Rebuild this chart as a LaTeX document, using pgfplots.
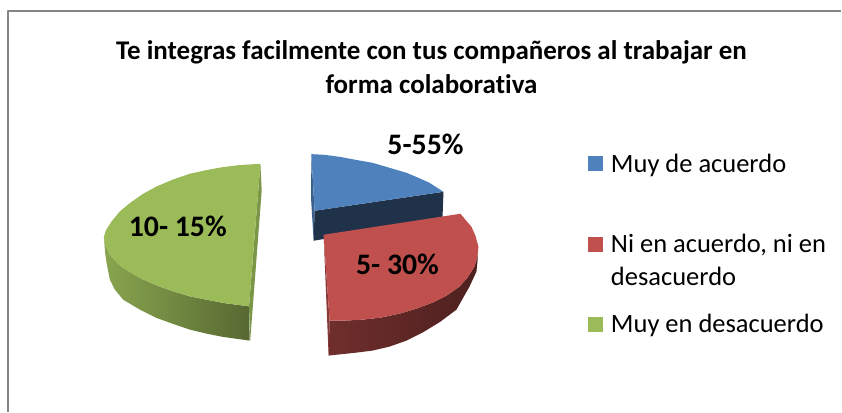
\documentclass[border=0pt]{standalone}
\usepackage{pgfplots}
\pgfplotsset{compat=1.18}
\usepackage{fontspec}
\setmainfont[Ligatures=NoCommon]{Carlito}
\definecolor{cblue}{HTML}{4F81BD}
\definecolor{cred}{HTML}{C0504D}
\definecolor{cgreen}{HTML}{9BBB59}
\begin{document}
\begin{tikzpicture}
\begin{axis}[
  width=842pt,height=412pt,scale only axis,
  xmin=0,xmax=842,ymin=0,ymax=412,y dir=reverse,
  axis lines=none,no markers,clip=false,
  every axis plot/.append style={line join=round},
]
% page and frame
\addplot[fill=white,draw=none] coordinates {(0,0)(842,0)(842,412)(0,412)} --cycle;
\addplot[color=black!48,line width=2pt] coordinates {(8.5,412)(8.5,11.5)(842,11.5)};
% green side
\addplot[draw=none,left color=cgreen!88!black,right color=cgreen!56!black] coordinates {
(104,237.3)(105.3,245)(110,255)(116.7,262.7)(123.3,268.3)(140,278.3)(156.7,285.7)(173.3,291.7)(190,296.7)(206.7,300)(223.3,303.3)(249.3,306.7)
(250,341)(223.3,337.3)(206.7,334)(190,330)(173.3,324.3)(156.7,318.3)(140,310)(123.3,300)(115,290)(110,280)(106.7,263.3)(105.3,253.3)} --cycle;
\addplot[draw=none,fill=cgreen!80!black] coordinates {(260.7,164)(262,191)(250.5,341)(249.3,306.7)} --cycle;
\addplot[draw=none,fill=cgreen] coordinates {
(260.7,164)(240,165.3)(223.3,167.3)(206.7,170.3)(190,174)(173.3,179.7)(156.7,186.7)(143.3,194)(130,203.3)(120,211.7)(111.7,221.7)(106,230.7)(104,237.3)(105.3,245)(110,255)(116.7,262.7)(123.3,268.3)(140,278.3)(156.7,285.7)(173.3,291.7)(190,296.7)(206.7,300)(223.3,303.3)(249.3,306.7)} --cycle;
% blue
\addplot[draw=none,fill=cblue!75!black] coordinates {(311.7,154.3)(315,211)(314,241)(311.5,200)} --cycle;
\addplot[draw=none,fill=cblue!39!black] coordinates {(315,211)(444,192)(443,219)(314,241)} --cycle;
\addplot[draw=none,fill=cblue] coordinates {
(311.7,154.3)(325,155)(340,157)(356,160)(373,163)(390,168)(407,173)(420,178.5)(430,183)(444,192)(315,211)} --cycle;
% red
\addplot[draw=none,fill=cred!70!black] coordinates {(324,235)(329,356)(330,321)} --cycle;
\addplot[draw=none,left color=cred!58!black,middle color=cred!33!black,right color=cred!40!black] coordinates {
(330,321)(345,321)(363,320)(381,318)(400,314)(417,309)(433,303)(447,296)(460,287)(468,278)(475,267)(478,257)(479,247)
(478,262)(477,272)(470,287)(457,310)(441,322)(423,333)(407,341)(390,347)(373,351)(357,353)(329,356)} --cycle;
\addplot[draw=none,fill=cred] coordinates {
(324,235)(461,214)(466,220)(472,227)(476,236)(479,247)(478,257)(475,267)(468,278)(460,287)(447,296)(433,303)(417,309)(400,314)(381,318)(363,320)(345,321)(330,321)} --cycle;
% legend keys
\addplot[draw=none,fill=cblue] coordinates {(589,156)(604,156)(604,171)(589,171)} --cycle;
\addplot[draw=none,fill=cred] coordinates {(589,237)(604,237)(604,252)(589,252)} --cycle;
\addplot[draw=none,fill=cgreen] coordinates {(589,317)(604,317)(604,332)(589,332)} --cycle;
% texts
\node[anchor=base,font=\fontsize{27}{30}\selectfont\bfseries] at (axis cs:432,59.5) {Te integras facilmente con tus compañeros al trabajar en};
\node[anchor=base,font=\fontsize{27}{30}\selectfont\bfseries] at (axis cs:432,93.5) {forma colaborativa};
\node[anchor=base,font=\fontsize{29.8}{32}\selectfont\bfseries] at (axis cs:426,154.5) {5-55\%};
\node[anchor=base,font=\fontsize{29.8}{32}\selectfont\bfseries] at (axis cs:178,236.5) {10- 15\%};
\node[anchor=base,font=\fontsize{29.8}{32}\selectfont\bfseries] at (axis cs:398,274.5) {5- 30\%};
\node[anchor=base west,inner sep=0pt,font=\fontsize{26.5}{30}\selectfont] at (axis cs:611.5,172.5) {Muy de acuerdo};
\node[anchor=base west,inner sep=0pt,font=\fontsize{26.5}{30}\selectfont] at (axis cs:611.5,253) {Ni en acuerdo, ni en};
\node[anchor=base west,inner sep=0pt,font=\fontsize{26.5}{30}\selectfont] at (axis cs:611.5,285.5) {desacuerdo};
\node[anchor=base west,inner sep=0pt,font=\fontsize{26.5}{30}\selectfont] at (axis cs:611.5,332.5) {Muy en desacuerdo};
\end{axis}
\end{tikzpicture}
\end{document}
